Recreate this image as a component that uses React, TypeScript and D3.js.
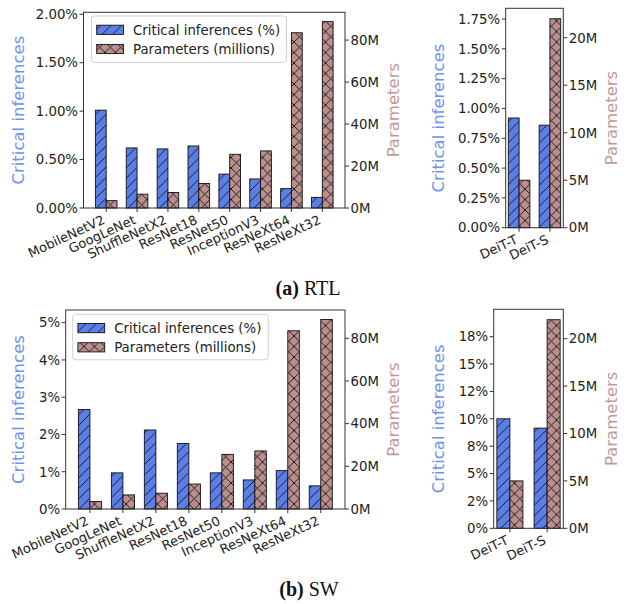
import React from "react";
import * as d3 from "d3";

// ---------- data ----------
const cnnModels = ["MobileNetV2", "GoogLeNet", "ShuffleNetX2", "ResNet18", "ResNet50", "InceptionV3", "ResNeXt64", "ResNeXt32"];
const cnnParams = [3.5, 6.6, 7.4, 11.7, 25.6, 27.2, 83.5, 88.8];
const rtlCnnCritical = [1.01, 0.62, 0.61, 0.64, 0.35, 0.3, 0.2, 0.11];
const swCnnCritical = [2.67, 0.97, 2.12, 1.76, 0.97, 0.78, 1.03, 0.62];

const vitModels = ["DeiT-T", "DeiT-S"];
const vitParams = [5.0, 22.0];
const rtlVitCritical = [0.92, 0.86];
const swVitCritical = [10.0, 9.15];

const rtlCnnTicks = [0, 0.5, 1, 1.5, 2];
const rtlCnnTickLabels = ["0.00%", "0.50%", "1.00%", "1.50%", "2.00%"];
const rtlVitTicks = [0, 0.25, 0.5, 0.75, 1, 1.25, 1.5, 1.75];
const rtlVitTickLabels = ["0.00%", "0.25%", "0.50%", "0.75%", "1.00%", "1.25%", "1.50%", "1.75%"];
const swCnnTicks = [0, 1, 2, 3, 4, 5];
const swCnnTickLabels = ["0%", "1%", "2%", "3%", "4%", "5%"];
const swVitTicks = [0, 2.5, 5, 7.5, 10, 12.5, 15, 17.5];
const swVitTickLabels = ["0%", "2%", "5%", "8%", "10%", "12%", "15%", "18%"];
const cnnParamTicks = [0, 20, 40, 60, 80];
const vitParamTicks = [0, 5, 10, 15, 20];
const paramTickLabel = (v: number) => `${v}M`;

const legendLabels = ["Critical inferences (%)", "Parameters (millions)"];
const leftAxisTitle = "Critical inferences";
const rightAxisTitle = "Parameters";

// ---------- styles ----------
const BLUE = "#5b7fe6";
const BROWN = "#bc8f8f";
const BLUE_LABEL = "#6f93ec";
const BROWN_LABEL = "#c09a9a";
const FONT = "'DejaVu Sans', sans-serif";
const TICK_FS = 13.3;
const XTICK_FS = 13.0;
const XROT = 25;
const LABEL_FS = 16.5;
const INK = "#222";

type PanelProps = {
  x0: number; x1: number; yTop: number; yBot: number;
  models: string[]; critical: number[]; params: number[];
  critTicks: number[]; critTickLabels: string[];
  paramTicks: number[];
  leftLabelX: number; rightLabelX: number;
  legend?: { x: number; y: number; w: number; h: number };
};

function Panel(p: PanelProps) {
  const n = p.models.length;
  const span = n - 1 + 0.7;
  const x = d3.scaleLinear().domain([-0.35 - 0.05 * span, n - 1 + 0.35 + 0.05 * span]).range([p.x0, p.x1]);
  const yL = d3.scaleLinear().domain([0, 2 * (d3.max(p.critical) as number)]).range([p.yBot, p.yTop]);
  const yR = d3.scaleLinear().domain([0, 1.05 * (d3.max(p.params) as number)]).range([p.yBot, p.yTop]);
  const bw = 0.35;
  const midY = (p.yTop + p.yBot) / 2;
  return (
    <g fontFamily={FONT}>
      {p.models.map((m, i) => (
        <g key={m}>
          <rect x={x(i - bw)} y={yL(p.critical[i])} width={x(i) - x(i - bw)} height={p.yBot - yL(p.critical[i])}
            fill="url(#hatchBlue)" stroke="#111" strokeWidth={0.9} />
          <rect x={x(i)} y={yR(p.params[i])} width={x(i + bw) - x(i)} height={p.yBot - yR(p.params[i])}
            fill="url(#hatchBrown)" stroke="#111" strokeWidth={0.9} />
        </g>
      ))}
      <rect x={p.x0} y={p.yTop} width={p.x1 - p.x0} height={p.yBot - p.yTop} fill="none" stroke="#333" strokeWidth={1} />
      {p.critTicks.map((t, i) => (
        <g key={"l" + i}>
          <line x1={p.x0 - 4} x2={p.x0} y1={yL(t)} y2={yL(t)} stroke="#333" />
          <text x={p.x0 - 5.5} y={yL(t)} dy="0.36em" textAnchor="end" fontSize={TICK_FS} fill={INK}>{p.critTickLabels[i]}</text>
        </g>
      ))}
      {p.paramTicks.map((t) => (
        <g key={"r" + t}>
          <line x1={p.x1} x2={p.x1 + 4} y1={yR(t)} y2={yR(t)} stroke="#333" />
          <text x={p.x1 + 5.5} y={yR(t)} dy="0.36em" textAnchor="start" fontSize={TICK_FS} fill={INK}>{paramTickLabel(t)}</text>
        </g>
      ))}
      {p.models.map((m, i) => (
        <g key={"x" + m}>
          <line x1={x(i)} x2={x(i)} y1={p.yBot} y2={p.yBot + 4} stroke="#333" />
          <text transform={`translate(${x(i) - 0.5},${p.yBot + 15}) rotate(${-XROT})`} textAnchor="end" fontSize={XTICK_FS} fill={INK}>{m}</text>
        </g>
      ))}
      <text transform={`translate(${p.leftLabelX},${midY}) rotate(-90)`} dy="0.36em" textAnchor="middle" fontSize={LABEL_FS} fill={BLUE_LABEL}>{leftAxisTitle}</text>
      <text transform={`translate(${p.rightLabelX},${midY}) rotate(-90)`} dy="0.36em" textAnchor="middle" fontSize={LABEL_FS} fill={BROWN_LABEL}>{rightAxisTitle}</text>
      {p.legend && (
        <g>
          <rect x={p.legend.x} y={p.legend.y} width={p.legend.w} height={p.legend.h} rx={3} fill="#fff" fillOpacity={0.85} stroke="#d0d0d0" />
          {legendLabels.map((lab, i) => {
            const cy = p.legend!.y + 13.8 + i * 19.2;
            return (
              <g key={lab}>
                <rect x={p.legend!.x + 5.2} y={cy - 4.6} width={26.8} height={9.2} fill={i === 0 ? "url(#hatchBlue)" : "url(#hatchBrown)"} stroke="#111" strokeWidth={0.9} />
                <text x={p.legend!.x + 41.5} y={cy} dy="0.36em" fontSize={TICK_FS} fill={INK}>{lab}</text>
              </g>
            );
          })}
        </g>
      )}
    </g>
  );
}

export default function App() {
  const P = 10.5;
  return (
    <svg width={633} height={604} style={{ position: "absolute", left: 0, top: 0, background: "#fff" }}>
      <defs>
        <pattern id="hatchBlue" patternUnits="userSpaceOnUse" width={P} height={P}>
          <rect width={P} height={P} fill={BLUE} />
          <path d={`M0,${P} L${P},0 M${-P / 2},${P / 2} L${P / 2},${-P / 2} M${P / 2},${P * 1.5} L${P * 1.5},${P / 2}`} stroke="#111" strokeWidth={0.9} />
        </pattern>
        <pattern id="hatchBrown" patternUnits="userSpaceOnUse" width={P} height={P}>
          <rect width={P} height={P} fill={BROWN} />
          <path d={`M0,${P} L${P},0 M${-P / 2},${P / 2} L${P / 2},${-P / 2} M${P / 2},${P * 1.5} L${P * 1.5},${P / 2} M0,0 L${P},${P} M${-P / 2},${P / 2} L${P / 2},${P * 1.5} M${P / 2},${-P / 2} L${P * 1.5},${P / 2}`} stroke="#111" strokeWidth={0.9} />
        </pattern>
      </defs>
      <Panel x0={83.5} x1={345} yTop={12.3} yBot={208} models={cnnModels} critical={rtlCnnCritical} params={cnnParams}
        critTicks={rtlCnnTicks} critTickLabels={rtlCnnTickLabels} paramTicks={cnnParamTicks}
        leftLabelX={18.3} rightLabelX={393.3} legend={{ x: 91.5, y: 16, w: 195, h: 46.5 }} />
      <Panel x0={505.7} x1={563.3} yTop={8.3} yBot={227.7} models={vitModels} critical={rtlVitCritical} params={vitParams}
        critTicks={rtlVitTicks} critTickLabels={rtlVitTickLabels} paramTicks={vitParamTicks}
        leftLabelX={438.3} rightLabelX={610.7} />
      <Panel x0={65.7} x1={345} yTop={310} yBot={509} models={cnnModels} critical={swCnnCritical} params={cnnParams}
        critTicks={swCnnTicks} critTickLabels={swCnnTickLabels} paramTicks={cnnParamTicks}
        leftLabelX={18.3} rightLabelX={393.3} legend={{ x: 72.7, y: 314.3, w: 195.6, h: 45.5 }} />
      <Panel x0={493.7} x1={563.3} yTop={309.3} yBot={528.3} models={vitModels} critical={swVitCritical} params={vitParams}
        critTicks={swVitTicks} critTickLabels={swVitTickLabels} paramTicks={vitParamTicks}
        leftLabelX={438.3} rightLabelX={610.7} />
      <text x={308} y={295} textAnchor="middle" fontFamily="'Liberation Serif', serif" fontSize={20} fill="#111">
        <tspan fontWeight="bold">(a)</tspan> RTL
      </text>
      <text x={309} y={596} textAnchor="middle" fontFamily="'Liberation Serif', serif" fontSize={20} fill="#111">
        <tspan fontWeight="bold">(b)</tspan> SW
      </text>
    </svg>
  );
}
